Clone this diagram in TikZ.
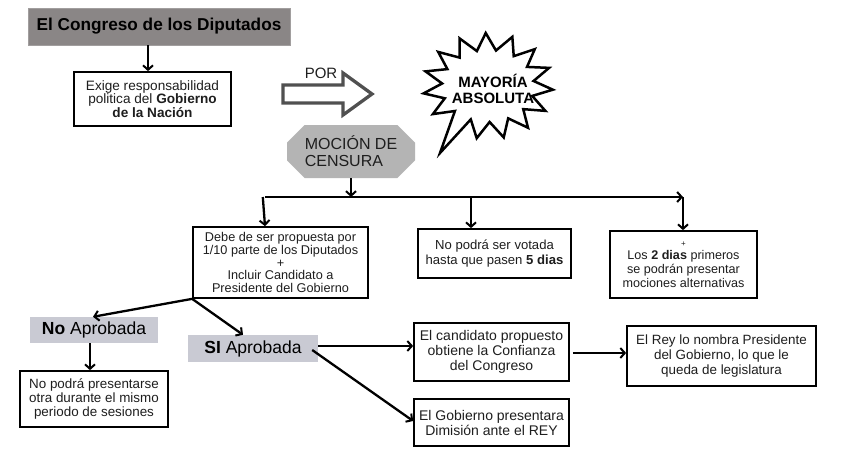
\documentclass[tikz,border=0pt]{standalone}
\usepackage{fontspec}
\setmainfont{Liberation Sans}
\usetikzlibrary{arrows.meta,shapes.misc,calc}
\definecolor{titlegray}{HTML}{8A8686}
\definecolor{mocgray}{HTML}{B4B4B4}
\definecolor{apgray}{HTML}{C9CAD3}
\definecolor{txt}{HTML}{1E1E1E}
\definecolor{porgray}{HTML}{505050}
\tikzset{
  x=1pt,y=-1pt,
  arr/.style={line width=2.3pt,draw=black,-{Straight Barb[length=4.5pt,width=10pt,line width=2pt]}},
  plain/.style={line width=2.3pt,draw=black},
  box/.style={draw=black,line width=1.7pt,fill=white,inner sep=0pt,align=center,text=txt,font=\fontsize{13.4}{14.6}\selectfont},
  apbox/.style={fill=apgray,inner sep=0pt,text=black,font=\fontsize{17.5}{19}\selectfont},
}
\begin{document}
\begin{tikzpicture}
\useasboundingbox (0,0) rectangle (848,452);
\fill[white] (0,0) rectangle (848,452);

% title
\node[fill=titlegray,draw=titlegray!80!white,line width=0.6pt,minimum width=262pt,minimum height=37pt,inner sep=0pt,
  font=\fontsize{17.2}{19}\selectfont\bfseries,text=black] (title) at (159,26.5) {El Congreso de los Diputados};

% Exige
\node[box,minimum width=157pt,minimum height=54pt,font=\fontsize{13.6}{13.8}\selectfont] (exige) at (152.5,99)
  {Exige responsabilidad\\politica del \textbf{Gobierno}\\\textbf{de la Nación}};

\draw[arr] ([xshift=-4.5pt]exige.north |- title.south) -- ([xshift=-4.5pt]exige.north);

% POR hollow arrow
\node[font=\fontsize{15}{16}\selectfont,text=txt,inner sep=0pt] (por) at (321,73) {POR};
\coordinate (pa) at (283,85);
\draw[porgray,line width=3.3pt,line join=miter,fill=white]
  (pa) -- ++(60,0) -- ++(0,-12) -- ++(29,21) -- ++(-29,21) -- ++(0,-12) -- ++(-60,0) -- cycle;

% Starburst
\coordinate (C) at (488,86);
\draw[line width=2.5pt,line join=miter,fill=white]
  (440,153)
  \foreach \a in {136,160,...,448} { -- ($(C)+(\a:46 and 36)$) -- ($(C)+(\a+12:65 and 53)$) }
  -- ($(C)+(472:46 and 36)$) -- cycle;
\node[font=\fontsize{15}{16.5}\selectfont\bfseries,align=center,inner sep=0pt,text=black] (mayo) at (493,89) {MAYORÍA\\ABSOLUTA};

% Moción
\node[chamfered rectangle,chamfered rectangle xsep=14pt,fill=mocgray,minimum width=128pt,minimum height=53pt,inner sep=0pt,
  align=left,font=\fontsize{16}{17}\selectfont,text=txt] (moc) at (351,151.5) {MOCIÓN DE\\CENSURA};

% second row boxes
\node[box,minimum width=175pt,minimum height=71pt,font=\fontsize{12.7}{12.9}\selectfont] (debe) at (280.5,262.5)
  {Debe de ser propuesta por\\1/10 parte de los Diputados\\+\\Incluir Candidato a\\Presidente del Gobierno};
\node[box,minimum width=153pt,minimum height=49pt,font=\fontsize{13.1}{14.5}\selectfont] (vot) at (494.5,253.5)
  {No podrá ser votada\\hasta que pasen \textbf{5 dias}};
\node[box,minimum width=147pt,minimum height=67pt,font=\fontsize{12.6}{13.8}\selectfont] (los) at (683.5,264.5)
  {{\fontsize{8}{6}\selectfont +}\\Los \textbf{2 dias} primeros\\se podrán presentar\\mociones alternativas};

% branch connectors
\coordinate (jm) at (351,197);
\coordinate (jl) at (265,197);
\coordinate (jc) at (471,197);
\coordinate (jr) at (683,197);
\draw[arr] (moc.south) -- (jm);
\draw[plain] (jl) -- (jm);
\draw[arr] (jm) -- (jr);
\draw[arr] ([xshift=-2.2pt]jl) -- (jl |- debe.north);
\draw[arr] (jc) -- (jc |- vot.north);
\draw[arr] (jr) -- (jr |- los.north);

% Aprobada
\node[apbox,minimum width=128pt,minimum height=26pt] (no) at (94,330) {\textbf{No} Aprobada};
\node[apbox,minimum width=130pt,minimum height=27pt] (si) at (253,348.5) {\textbf{SI} Aprobada};

\draw[arr] (debe.south west) -- ([xshift=-1pt]no.north);
\draw[arr] (debe.south west) -- ([xshift=-10pt]si.north);

\node[box,minimum width=148pt,minimum height=56pt,font=\fontsize{13.4}{14}\selectfont] (nop) at (94,399)
  {No podrá presentarse\\otra durante el mismo\\periodo de sesiones};
\draw[arr] ([xshift=-4pt]no.south) -- ([xshift=-4pt]nop.north);

% SI results
\node[box,minimum width=155pt,minimum height=58pt,font=\fontsize{14}{15}\selectfont] (cand) at (491.5,352)
  {El candidato propuesto\\obtiene la Confianza\\del Congreso};
\node[box,minimum width=155pt,minimum height=47pt,font=\fontsize{14}{15}\selectfont] (gob) at (491.5,422.5)
  {El Gobierno presentara\\Dimisión ante el REY};
\node[box,minimum width=189pt,minimum height=60pt,font=\fontsize{13.4}{14.8}\selectfont] (rey) at (721.5,356)
  {El Rey lo nombra Presidente\\del Gobierno, lo que le\\queda de legislatura};

\coordinate (sia) at ([yshift=2.5pt]si.east);
\coordinate (sib) at ([yshift=-1.5pt,xshift=-6pt]si.east);
\coordinate (cra) at ([xshift=3pt,yshift=-1pt]cand.east);
\draw[arr] (sia) -- (cand.west |- sia);
\draw[arr] (sib) -- ([yshift=1.5pt]gob.west);
\draw[arr] (cra) -- (rey.west |- cra);
\end{tikzpicture}
\end{document}
